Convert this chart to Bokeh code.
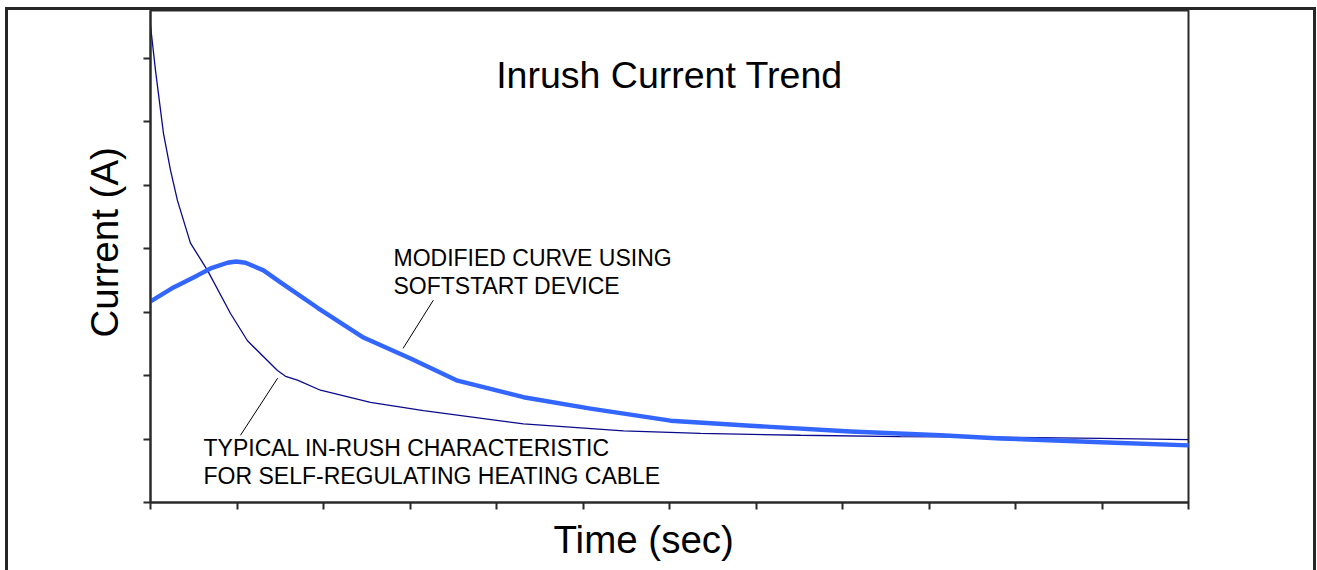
import math
from bokeh.plotting import figure
from bokeh.models import Label, Range1d, FixedTicker, Title
from bokeh.embed import file_html
from bokeh.resources import INLINE

# ---- data ----
time_typical = [0, 0.058, 0.150, 0.231, 0.312, 0.462, 0.659, 0.925, 1.121,
                1.468, 1.561, 1.699, 1.965, 2.543, 3.156, 4.312, 5.468, 6.358, 7.514,
                8.671, 9.827, 10.983, 12.0]
current_typical = [7.52, 6.81, 5.82, 5.24, 4.76, 4.09, 3.66, 2.98, 2.55,
                   2.08, 1.99, 1.93, 1.77, 1.58, 1.45, 1.24, 1.13, 1.09, 1.06,
                   1.04, 1.03, 1.01, 0.99]

time_softstart = [0, 0.266, 0.543, 0.694, 0.890, 0.990, 1.098, 1.306, 1.503, 1.931, 2.462,
                  3.006, 3.549, 4.312, 5.087, 6.012, 6.936, 8.092, 9.133, 9.827, 10.983, 12.0]
current_softstart = [3.17, 3.39, 3.58, 3.69, 3.78, 3.80, 3.78, 3.66, 3.47, 3.07, 2.60,
                     2.27, 1.92, 1.66, 1.48, 1.29, 1.21, 1.12, 1.06, 1.01, 0.95, 0.90]

x_ticks = list(range(0, 13))
y_ticks = list(range(0, 8))

# leader lines (data coordinates): [x0, x1], [y0, y1]
leader_soft_x = [3.27, 2.92]
leader_soft_y = [3.19, 2.43]
leader_typ_x = [1.47, 1.04]
leader_typ_y = [1.96, 1.06]

title_text = "Inrush Current Trend"
x_label_text = "Time (sec)"
y_label_text = "Current (A)"
soft_lines = ["MODIFIED CURVE USING", "SOFTSTART DEVICE"]
typ_lines = ["TYPICAL IN-RUSH CHARACTERISTIC", "FOR SELF-REGULATING HEATING CABLE"]

FONT = "Liberation Sans"
DARK = "#2a2a2a"

p = figure(width=1311, height=563, output_backend="svg", toolbar_location=None,
           x_range=Range1d(0, 12), y_range=Range1d(0, 7.757),
           min_border_left=142, min_border_right=131,
           min_border_top=0, min_border_bottom=71,
           background_fill_color="white", border_fill_color="white")
p.styles = {"margin-left": "5px", "margin-top": "7px",
            "border-top": "3px solid #262626",
            "border-left": "3px solid #262626",
            "border-right": "3px solid #262626"}

p.grid.visible = False
p.outline_line_color = DARK
p.outline_line_width = 2

for ax, ticks in ((p.xaxis, x_ticks), (p.yaxis, y_ticks)):
    ax.ticker = FixedTicker(ticks=ticks)
    ax.major_label_overrides = {t: "" for t in ticks}
    ax.major_label_text_font_size = "1px"
    ax.major_label_standoff = 0
    ax.minor_tick_line_color = None
    ax.major_tick_in = 0
    ax.major_tick_out = 7
    ax.major_tick_line_width = 2
    ax.major_tick_line_color = DARK
    ax.axis_line_width = 2
    ax.axis_line_color = DARK

p.line(time_typical, current_typical, line_color="#0a0a8c", line_width=1.3)
p.line(time_softstart, current_softstart, line_color="#3366ff", line_width=4.4,
       line_join="round", line_cap="round")

p.line(leader_soft_x, leader_soft_y, line_color="black", line_width=1)
p.line(leader_typ_x, leader_typ_y, line_color="black", line_width=1)

# texts
p.add_layout(Label(x=6, y=6.74, text=title_text, text_align="center",
                   text_baseline="alphabetic", text_font=FONT,
                   text_font_size="37.5px", text_color="black"))

ann_size = "23px"
for xx, yy, t in ((2.809, 3.855, soft_lines[0]), (2.809, 3.41, soft_lines[1]),
                  (0.613, 0.86, typ_lines[0]), (0.613, 0.42, typ_lines[1])):
    p.add_layout(Label(x=xx, y=yy, text=t, text_font=FONT, text_color="black",
                       text_font_size=ann_size, text_baseline="alphabetic"))

p.add_layout(Title(text=x_label_text, align="left", offset=403,
                   text_font=FONT, text_font_size="38.5px", text_font_style="normal",
                   text_color="black", standoff=13), "below")
p.add_layout(Title(text=y_label_text, align="left", offset=165,
                   text_font=FONT, text_font_size="38.5px", text_font_style="normal",
                   text_color="black", standoff=36), "left")

open("out.html", "w").write(file_html(p, INLINE))
